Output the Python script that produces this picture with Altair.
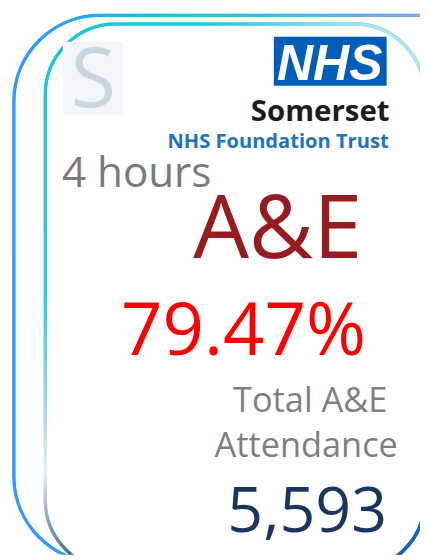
import altair as alt
import pandas as pd

# ---- content ----
org_lines = ["NHS", "Somerset", "NHS Foundation Trust"]
metric_label = "4 hours"
service_label = "A&E"
performance_pct = [79.47]
attendance_label = ["Total A&E", "Attendance"]
attendance_total = [5593]

W, H = 420, 552
OFF = 8


def px(v):
    return v - OFF


def text_layer(txt, x, y, size, color, align="left", font="Open Sans",
               weight="normal", style="normal", opacity=1):
    df = pd.DataFrame({"t": [txt]})
    return alt.Chart(df).mark_text(
        align=align, baseline="alphabetic", fontSize=size, color=color,
        font=font, fontWeight=weight, fontStyle=style, opacity=opacity
    ).encode(text="t:N", x=alt.value(px(x)), y=alt.value(px(y)))


def rect_layer(x, x2, y, y2, **kw):
    df = pd.DataFrame({"k": [0]})
    return alt.Chart(df).mark_rect(**kw).encode(
        x=alt.value(px(x)), x2=alt.value(px(x2)),
        y=alt.value(px(y)), y2=alt.value(px(y2)))


outer_grad = alt.LinearGradient(
    gradient="linear", x1=0, y1=0, x2=1, y2=0,
    stops=[alt.GradientStop(offset=0, color="#3399ff"),
           alt.GradientStop(offset=0.06, color="#3399ff"),
           alt.GradientStop(offset=0.3, color="#10c8d6"),
           alt.GradientStop(offset=0.55, color="#3fbfe6"),
           alt.GradientStop(offset=0.8, color="#80a3f2"),
           alt.GradientStop(offset=1, color="#8aa0f0")])

inner_grad = alt.LinearGradient(
    gradient="linear", x1=0, y1=0, x2=0, y2=1,
    stops=[alt.GradientStop(offset=0, color="#1cc6d6"),
           alt.GradientStop(offset=0.5, color="#30cbe0"),
           alt.GradientStop(offset=0.72, color="#a8dcf0"),
           alt.GradientStop(offset=0.82, color="#e4eff8"),
           alt.GradientStop(offset=0.92, color="#7f9cb8"),
           alt.GradientStop(offset=1, color="#2c5482")])

inner_overlay = alt.LinearGradient(
    gradient="linear", x1=1, y1=0, x2=0, y2=1,
    stops=[alt.GradientStop(offset=0, color="rgba(190,230,242,1)"),
           alt.GradientStop(offset=0.12, color="rgba(160,222,238,1)"),
           alt.GradientStop(offset=0.3, color="rgba(120,215,232,0)"),
           alt.GradientStop(offset=1, color="rgba(120,215,232,0)")])

inner_br = alt.LinearGradient(
    gradient="linear", x1=0, y1=0, x2=1, y2=1,
    stops=[alt.GradientStop(offset=0, color="rgba(21,101,192,0)"),
           alt.GradientStop(offset=0.8, color="rgba(21,101,192,0)"),
           alt.GradientStop(offset=0.9, color="rgba(21,101,192,1)"),
           alt.GradientStop(offset=1, color="rgba(21,101,192,1)")])

outer = rect_layer(14, 520, 10, 568, fillOpacity=0, stroke=outer_grad,
                   strokeWidth=3.5, cornerRadius=88, clip=True)
inner = rect_layer(46, 433, 19, 576, fillOpacity=0, stroke=inner_grad,
                   strokeWidth=3.5, cornerRadius=72, clip=True)
inner2 = rect_layer(46, 433, 19, 576, fillOpacity=0, stroke=inner_overlay,
                    strokeWidth=3.6, cornerRadius=72, clip=True)
inner3 = rect_layer(46, 433, 19, 576, fillOpacity=0, stroke=inner_br,
                    strokeWidth=3.6, cornerRadius=72, clip=True)

# left logo placeholder
logo_bg = rect_layer(64, 125, 37, 112, fill="#f3f5f8")
logo_s = text_layer("S", 95, 104, 84, "#c9d5df", align="center",
                    font="Open Sans")

nhs_box = rect_layer(279, 394, 32, 82, fill="#005eb8")
nhs_txt = text_layer(org_lines[0], 336, 76, 51, "#ffffff", align="center",
                     font="Liberation Sans", weight="bold", style="italic")
somerset = text_layer(org_lines[1], 397, 118, 30, "#1c1c1c", align="right",
                      weight="bold")
trust = text_layer(org_lines[2], 396, 145, 20.5, "#2072c4", align="right",
                   weight="bold")

hours = text_layer(metric_label, 63, 185, 43, "#7a7a7a")
ae = text_layer(service_label, 283, 258, 90, "#961c22", align="center")
pct = text_layer(f"{performance_pct[0]:.2f}%", 248, 356, 74, "#ff0000",
                 align="center")
lab1 = text_layer(attendance_label[0], 316, 414, 35, "#7f7f7f", align="center")
lab2 = text_layer(attendance_label[1], 312, 460, 35, "#7f7f7f", align="center")
total = text_layer(f"{attendance_total[0]:,}", 313, 537, 64, "#1b365d",
                   align="center")

chart = alt.layer(
    outer, inner, inner2, inner3, logo_bg, logo_s, nhs_box, nhs_txt,
    somerset, trust, hours, ae, pct, lab1, lab2, total
).properties(
    width=W, height=H, padding=0, background="#ffffff",
    autosize=alt.AutoSizeParams(type="none")
).configure_view(stroke=None)

chart.save("out.html", embed_options={"renderer": "svg", "actions": False})
